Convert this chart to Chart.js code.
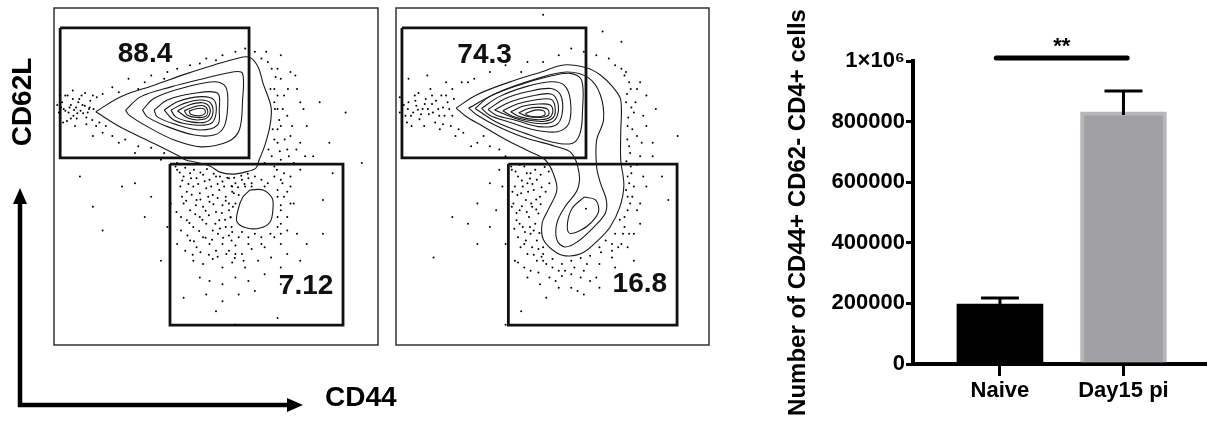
<!DOCTYPE html>
<html>
<head>
<meta charset="utf-8">
<script src="https://cdn.jsdelivr.net/npm/chart.js@4.4.1/dist/chart.umd.min.js"></script>
<style>
  body { margin: 0; background: #fff; width: 1211px; height: 421px; overflow: hidden; position: relative; }
  canvas { position: absolute; top: 0; }
  #flowNaive { left: 0; }
  #flowDay15 { left: 390px; }
  #barChart { left: 750px; }
</style>
</head>
<body>
<canvas id="flowNaive" width="410" height="421"></canvas>
<canvas id="flowDay15" width="350" height="421"></canvas>
<canvas id="barChart" width="461" height="421"></canvas>
<script>
// Datos de citometría (canal 0-1000 en ambos ejes)
const p1Gates = [[19, 941, 602, 555], [358, 537, 892, 59]];
const p2Gates = [[19, 941, 607, 555], [359, 537, 898, 59]];
const p1Labels = ['88.4', '7.12'];
const p1LabelPos = [[281, 863], [778, 175]];
const p2Labels = ['74.3', '16.8'];
const p2LabelPos = [[283, 860], [779, 181]];

// Contornos, panel naive
const p1Contours = [
  [[129,692],[206,737],[309,771],[412,806],[494,831],[556,848],[603,854],[630,825],[645,777],[670,706],[667,653],[651,593],[633,549],[623,525],[589,513],[549,507],[512,513],[481,531],[435,543],[407,549],[381,563],[309,598],[206,646]],
  [[605,460],[645,460],[673,436],[676,407],[667,365],[636,347],[596,347],[565,365],[568,401],[583,439]],
  [[221,697],[268,737],[361,766],[464,791],[556,811],[582,806],[582,727],[572,638],[536,603],[453,588],[371,608],[288,648],[232,682]],
  [[273,697],[309,732],[391,761],[494,781],[530,766],[536,707],[525,648],[494,623],[433,623],[350,648],[288,677]],
  [[309,697],[350,727],[433,747],[505,747],[510,697],[505,653],[453,638],[381,653],[319,677]],
  [[340,697],[381,722],[453,737],[494,727],[500,687],[484,657],[433,653],[371,667]],
  [[361,697],[402,717],[453,727],[484,717],[489,682],[469,662],[422,662],[376,677]],
  [[381,695],[417,712],[458,719],[479,707],[479,682],[458,669],[417,672]],
  [[402,695],[433,707],[461,710],[474,697],[469,679],[443,675],[412,682]],
  [[417,694],[443,702],[464,700],[466,687],[448,680],[422,685]]
];

// Contornos, panel día 15
const p2Contours = [
  [[192,703],[257,742],[362,780],[464,810],[536,831],[610,822],[653,801],[693,765],[718,727],[718,629],[718,549],[728,475],[715,409],[684,350],[647,312],[601,276],[554,264],[514,273],[471,312],[467,362],[486,401],[514,460],[502,510],[477,549],[430,573],[353,608],[276,650],[223,679]],
  [[232,703],[322,748],[446,789],[545,810],[616,792],[653,742],[663,668],[641,608],[641,528],[653,481],[672,430],[669,392],[632,350],[579,306],[539,291],[514,312],[514,362],[539,409],[579,460],[585,510],[560,570],[508,590],[415,614],[322,650],[260,682]],
  [[601,439],[638,430],[647,395],[622,362],[591,341],[554,332],[548,362],[563,406]],
  [[253,702],[299,737],[392,771],[485,796],[557,806],[593,786],[596,697],[588,628],[562,598],[495,603],[413,628],[320,662]],
  [[273,702],[330,737],[413,766],[495,781],[537,771],[557,727],[552,657],[516,633],[444,638],[361,662],[299,682]],
  [[294,699],[351,732],[423,752],[495,761],[526,742],[531,687],[511,653],[454,648],[382,667],[320,682]],
  [[315,697],[366,722],[433,739],[495,745],[516,722],[516,682],[495,660],[444,658],[382,672]],
  [[341,695],[387,715],[444,727],[495,729],[508,707],[504,677],[475,664],[423,667],[372,679]],
  [[366,692],[408,709],[454,715],[493,712],[501,692],[485,672],[444,669],[397,677]],
  [[392,689],[423,702],[459,705],[485,699],[487,682],[459,675],[418,679]],
  [[413,687],[444,697],[473,694],[475,682],[449,677],[423,680]]
];

// Eventos fuera de los contornos
const p1Dots = [
  [30,700],[45,690],[52,712],[60,680],[68,705],[75,720],[82,695],[90,688],[95,710],[100,675],[108,700],[112,725],[40,665],[58,730],[70,672],[85,740],[118,668],[25,720],[120,740],[100,655],[65,650],[35,740],[140,660],[150,745],[160,650],
  [15,690],[22,705],[35,695],[48,705],[62,697],[72,688],[88,712],[104,690],[110,705],[78,730],[52,672],[42,740],[96,748],[28,660],[122,700],[130,650],[132,735],[10,712],[58,755],[18,740],
  [180,765],[230,790],[260,760],[300,800],[340,790],[380,820],[420,830],[450,835],[500,845],[520,860],[560,870],[590,880],[620,870],[640,850],[470,850],[280,780],[200,750],[350,810],
  [150,630],[180,620],[220,610],[260,590],[300,585],[340,570],[200,600],[250,570],[120,620],[380,540],[330,550],
  [660,840],[690,820],[700,790],[680,760],[710,740],[690,700],[720,680],[700,650],[730,620],[690,600],[720,580],[700,550],[740,540],[760,600],[770,700],[750,760],[730,810],[780,650],[680,530],[710,510],[800,560],[820,720],[850,600],[680,720],[675,640],[662,580],[650,540],
  [672,820],[684,795],[668,760],[690,740],[682,700],[695,668],[680,610],[697,575],[672,560],[688,520],[705,480],[725,560],[712,610],[735,650],[706,700],[722,760],[745,800],[700,860],[655,870],[690,640],[760,720],[748,580],[730,500],[760,520],[775,560],
  [380,520],[400,500],[420,510],[440,495],[460,505],[480,490],[500,500],[520,485],[540,495],[560,480],[580,490],[600,495],[620,500],[640,490],[660,480],[680,500],[700,490],
  [375,530],[388,512],[396,488],[405,526],[415,478],[423,495],[432,520],[445,478],[452,512],[465,486],[472,522],[485,470],[493,508],[505,478],[512,500],[525,470],[535,496],[548,472],[556,496],[568,468],[578,502],[588,478],[598,508],[610,470],
  [390,470],[410,455],[430,470],[450,450],[470,465],[490,445],[510,460],[530,440],[550,455],[570,445],[590,470],[690,460],[710,440],[730,470],
  [395,440],[408,428],[425,446],[438,415],[452,432],[468,398],[476,440],[492,418],[505,436],[518,392],[530,428],[545,378],[552,410],
  [400,420],[420,400],[440,430],[460,410],[480,425],[500,395],[520,415],[540,400],[560,420],[700,400],[720,380],[740,420],[690,350],
  [378,395],[392,380],[418,362],[436,388],[458,372],[478,385],[498,360],[512,346],[528,372],[540,325],
  [410,370],[430,350],[450,380],[470,360],[490,340],[510,370],[530,350],[550,335],[570,320],[600,320],[640,320],[680,320],[720,340],
  [392,340],[412,325],[432,308],[448,338],[468,318],[488,312],[506,330],[522,318],[548,310],
  [420,310],[440,290],[460,320],[480,300],[500,280],[520,300],[540,280],[560,295],[580,270],[610,285],[650,290],[700,300],[750,330],
  [405,280],[428,268],[452,275],[478,268],[505,262],[532,270],[558,258],[585,250],
  [550,470],[610,480],[650,470],[690,440],[700,415],[690,380],[700,360],[668,330],[620,330],[580,335],[548,350],[545,380],[540,420],[555,450],[730,420],[720,455],[640,300],[600,300],[560,270],[700,330],
  [430,250],[460,240],[490,255],[520,230],[550,245],[590,230],[630,250],[670,260],[720,270],[780,300],
  [450,200],[480,190],[520,180],[560,200],[600,190],[650,210],[700,230],[760,250],[830,330],[830,430],
  [470,150],[520,130],[570,150],[620,160],[700,180],[500,100],[380,300],[360,420],[350,350],[330,250],[300,440],[280,380],[250,480],[210,470],[150,340],[80,500],[120,410],[400,140],[860,510],[900,690],[950,540],[690,80],[560,60]
];
const p2Dots = [
  [20,700],[30,680],[40,720],[55,690],[65,710],[75,670],[85,700],[95,730],[105,685],[115,715],[125,660],[135,700],[145,740],[155,680],[165,720],[175,650],[180,760],[60,740],[90,650],[110,760],[140,640],[50,650],[200,640],[215,630],[230,780],[160,780],[40,790],[100,800],[260,600],[300,590],[330,580],[280,620],[350,560],[240,590],
  [12,690],[25,712],[38,700],[48,680],[62,725],[70,698],[80,685],[92,715],[102,700],[118,690],[128,725],[138,680],[150,705],[160,740],[170,700],[180,680],[185,730],[115,740],[72,748],[35,660],[12,735],[150,655],[190,620],[210,780],
  [250,790],[300,810],[350,830],[420,840],[470,840],[520,860],[560,880],[600,870],[640,860],[680,850],[700,830],[400,810],[260,860],[660,930],[720,900],[470,980],
  [730,800],[750,760],[735,720],[760,690],[740,650],[770,620],[745,590],[780,560],[750,530],[790,500],[760,470],[740,440],[780,420],[730,380],[700,330],[720,300],[760,330],[800,650],[820,560],[850,500],[800,740],[830,700],[870,430],[900,620],[780,780],[820,600],
  [735,810],[745,780],[738,745],[752,705],[742,675],[755,640],[739,610],[748,570],[736,545],[752,510],[770,535],[785,600],[765,720],[790,680],[740,500],[735,460],[755,440],[748,420],[730,350],[745,330],[725,330],[710,290],[740,290],[690,280],[770,400],[800,470],[770,760],[720,820],
  [370,520],[390,500],[410,530],[430,510],[450,490],[380,470],[400,450],[420,480],[440,460],[460,440],[375,420],[395,400],[415,430],[435,410],[455,390],[385,370],[405,350],[425,380],[445,360],[390,320],[410,300],[430,330],[450,310],[470,290],[420,270],[450,250],[480,240],[500,230],[520,220],[560,210],[600,220],[650,240],[690,260],[340,470],[320,400],[300,350],[350,300],[380,250],[420,200],[460,180],[520,170],[580,160],[640,200],[700,230],[330,520],[300,480],[260,420],[230,360],[180,380],[120,260],[260,300],[400,100],[350,60],[480,140],
  [368,530],[382,515],[395,535],[402,488],[418,510],[428,494],[445,520],[462,505],[475,528],[488,515],[372,455],[388,445],[405,470],[422,455],[436,478],[448,432],[465,468],[478,455],[490,480],[370,410],[385,392],[402,412],[418,395],[432,420],[448,402],[462,418],[378,345],[395,360],[412,335],[428,350],[440,340],[458,332],[398,290],[415,310],[435,290],[455,285],[440,268],[465,262],[390,245],[410,230],[430,220],[455,215],[490,200],[530,205],[570,230],[610,240],[655,275],[470,250],
  [470,270],[500,255],[530,240],[560,250],[590,258],[620,265],[650,290],[670,310],[540,220],[590,200],[620,190],[510,190],[560,170],[600,150],[650,170],
  [745,480],[740,400],[715,372],[690,300],[760,250],[780,360],[607,404]
];

// Datos del gráfico de barras
const groups = ['Naive', 'Day15 pi'];
const counts = [198000, 832000];
const sem = [20000, 69000];
const yTickValues = [0, 200000, 400000, 600000, 800000, 1000000];
const yTickLabels = ['0', '200000', '400000', '600000', '800000', '1×10⁶'];
const sigText = '**';
const sigLevel = 1010000;

const FONT = '"Liberation Sans", Arial, sans-serif';

// Marco, etiquetas de puertas y flechas de ejes
const flowDecor = {
  id: 'flowDecor',
  afterDatasetsDraw(chart, args, opts) {
    const { ctx, chartArea: a, scales: { x, y } } = chart;
    ctx.save();
    ctx.strokeStyle = '#333';
    ctx.lineWidth = 1.5;
    ctx.strokeRect(a.left, a.top, a.right - a.left, a.bottom - a.top);
    ctx.fillStyle = '#111';
    ctx.font = 'bold 28px ' + FONT;
    ctx.textAlign = 'center';
    ctx.textBaseline = 'middle';
    opts.labels.forEach((t, i) => {
      ctx.fillText(t, x.getPixelForValue(opts.pos[i][0]), y.getPixelForValue(opts.pos[i][1]));
    });
    if (opts.arrows) {
      const ax = a.left - 34, ay = a.bottom + 60;
      ctx.strokeStyle = '#000';
      ctx.fillStyle = '#000';
      ctx.lineWidth = 4.5;
      ctx.beginPath();
      ctx.moveTo(ax, a.top + 192);
      ctx.lineTo(ax, ay);
      ctx.lineTo(a.left + 236, ay);
      ctx.stroke();
      ctx.beginPath();
      ctx.moveTo(ax, a.top + 180);
      ctx.lineTo(ax - 7, a.top + 196);
      ctx.lineTo(ax + 7, a.top + 196);
      ctx.closePath();
      ctx.fill();
      ctx.beginPath();
      ctx.moveTo(a.left + 249, ay);
      ctx.lineTo(a.left + 233, ay - 7);
      ctx.lineTo(a.left + 233, ay + 7);
      ctx.closePath();
      ctx.fill();
      ctx.font = 'bold 28px ' + FONT;
      ctx.textAlign = 'left';
      ctx.fillText('CD44', a.left + 271, ay - 7);
      ctx.save();
      ctx.translate(ax + 3, a.top + 94);
      ctx.rotate(-Math.PI / 2);
      ctx.textAlign = 'center';
      ctx.fillText('CD62L', 0, 0);
      ctx.restore();
    }
    ctx.restore();
  }
};

function flowChart(id, contours, dots, gates, labels, pos, pad, arrows) {
  const datasets = [{
    data: dots,
    pointRadius: 1,
    pointBackgroundColor: '#000',
    pointBorderWidth: 0
  }];
  contours.forEach(c => datasets.push({
    data: c.concat([c[0]]),
    showLine: true,
    borderColor: '#1a1a1a',
    borderWidth: 1.1,
    pointRadius: 0,
    tension: 0.35
  }));
  gates.forEach(g => datasets.push({
    data: [[g[0], g[1]], [g[2], g[1]], [g[2], g[3]], [g[0], g[3]], [g[0], g[1]]],
    showLine: true,
    borderColor: '#111',
    borderWidth: 2.8,
    borderJoinStyle: 'miter',
    pointRadius: 0,
    tension: 0
  }));
  return new Chart(document.getElementById(id), {
    type: 'scatter',
    data: { datasets },
    options: {
      responsive: false,
      animation: false,
      layout: { padding: pad },
      plugins: {
        legend: { display: false },
        tooltip: { enabled: false },
        flowDecor: { labels, pos, arrows }
      },
      scales: {
        x: { display: false, min: 0, max: 1000 },
        y: { display: false, min: 0, max: 1000 }
      }
    },
    plugins: [flowDecor]
  });
}

// Barras de error y significancia
const errorBars = {
  id: 'errorBars',
  afterDatasetsDraw(chart) {
    const { ctx, scales: { x, y } } = chart;
    ctx.save();
    ctx.strokeStyle = '#000';
    ctx.lineWidth = 3;
    counts.forEach((c, i) => {
      const px = x.getPixelForValue(i + 1);
      const top = y.getPixelForValue(c + sem[i]);
      ctx.beginPath();
      ctx.moveTo(px, y.getPixelForValue(c) + 3);
      ctx.lineTo(px, top);
      ctx.moveTo(px - 19, top);
      ctx.lineTo(px + 19, top);
      ctx.stroke();
    });
    const sy = y.getPixelForValue(sigLevel);
    const x1 = x.getPixelForValue(0.97), x2 = x.getPixelForValue(2.03);
    ctx.lineWidth = 5;
    ctx.lineCap = 'round';
    ctx.beginPath();
    ctx.moveTo(x1, sy);
    ctx.lineTo(x2, sy);
    ctx.stroke();
    ctx.fillStyle = '#000';
    ctx.font = 'bold 22px ' + FONT;
    ctx.textAlign = 'center';
    ctx.fillText(sigText, (x1 + x2) / 2, sy - 5);
    ctx.restore();
  }
};

document.addEventListener('DOMContentLoaded', function () {
  flowChart('flowNaive', p1Contours, p1Dots, p1Gates, p1Labels, p1LabelPos,
    { left: 54, top: 8, right: 32, bottom: 76 }, true);
  flowChart('flowDay15', p2Contours, p2Dots, p2Gates, p2Labels, p2LabelPos,
    { left: 6, top: 8, right: 31, bottom: 76 }, false);

  const tickFont = { family: FONT, size: 22, weight: 'bold' };
  new Chart(document.getElementById('barChart'), {
    type: 'bar',
    data: {
      datasets: [{
        data: groups.map((g, i) => ({ x: i + 1, y: counts[i] })),
        backgroundColor: ['#000000', '#a1a1a5'],
        borderColor: ['#000000', '#b6b6b9'],
        borderWidth: [0, 4],
        barThickness: 86
      }]
    },
    options: {
      responsive: false,
      animation: false,
      layout: { padding: { top: 61, right: 6, left: 0, bottom: 0 } },
      plugins: { legend: { display: false }, tooltip: { enabled: false } },
      scales: {
        x: {
          type: 'linear',
          min: 0.296,
          max: 2.66,
          offset: false,
          z: 1,
          afterBuildTicks: axis => { axis.ticks = groups.map((g, i) => ({ value: i + 1 })); },
          afterFit: axis => { axis.height = 57; },
          ticks: { callback: v => groups[v - 1], font: tickFont, color: '#000', padding: 2, maxRotation: 0, autoSkip: false },
          grid: { offset: false, drawOnChartArea: false, tickLength: 12, lineWidth: 3, color: '#000' },
          border: { width: 4, color: '#000' }
        },
        y: {
          min: 0,
          max: 1000000,
          z: 1,
          afterBuildTicks: axis => { axis.ticks = yTickValues.map(v => ({ value: v })); },
          afterFit: axis => { axis.width = 163; },
          ticks: { callback: (v, i) => yTickLabels[i], font: tickFont, color: '#000', padding: 1 },
          grid: { drawOnChartArea: false, tickLength: 7, lineWidth: 3, color: '#000' },
          border: { width: 4, color: '#000' },
          title: {
            display: true,
            text: 'Number of CD44+ CD62- CD4+ cells',
            font: { family: FONT, size: 24, weight: 'bold' },
            color: '#000',
            padding: { top: 34, bottom: 0 }
          }
        }
      }
    },
    plugins: [errorBars]
  });
});
</script>
</body>
</html>
